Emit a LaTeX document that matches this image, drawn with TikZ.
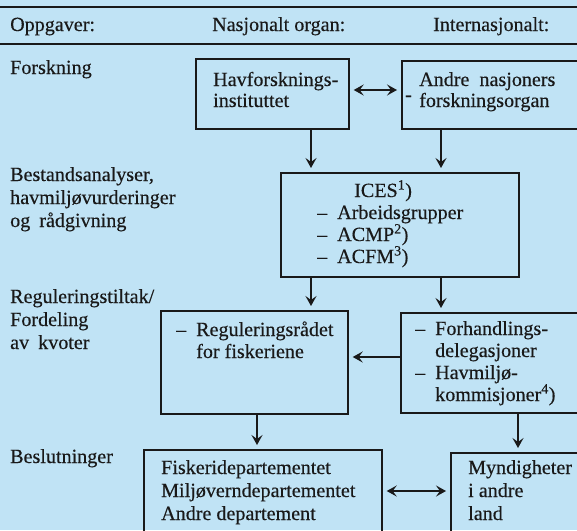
\documentclass[tikz,border=0pt]{standalone}
\usepackage{fontspec}
\setmainfont{Liberation Serif}[FakeBold=0.35]
\usetikzlibrary{arrows.meta}
\definecolor{bgblue}{RGB}{192,227,245}
\definecolor{ink}{RGB}{25,25,25}
\newcommand{\dashitem}[1]{\makebox[20pt][l]{–}#1}
\begin{document}
\begin{tikzpicture}[x=1pt,y=-1pt,
  every node/.style={inner sep=0pt, text=ink, font=\fontsize{20.1}{22}\selectfont},
  box/.style={draw=ink, line width=1.7pt, anchor=north west, minimum width=#1},
  txt/.style={anchor=base west},
  rule/.style={draw=ink, line width=1.5pt},
  arr/.style={draw=ink, line width=1.5pt, -{Stealth[length=10pt,width=11pt,inset=4pt]}, shorten >=4pt},
  dbl/.style={draw=ink, line width=1.5pt, {Stealth[length=10pt,width=11pt,inset=4pt]}-{Stealth[length=10pt,width=11pt,inset=4pt]}, shorten >=4pt, shorten <=4pt}
]
\fill[bgblue] (0,0) rectangle (577,530);
\useasboundingbox (0,0) rectangle (577,530);

% header rules
\coordinate (r1a) at (0,7);   \coordinate (r1b) at (577,7);
\coordinate (r2a) at (0,44);  \coordinate (r2b) at (577,44);
\draw[rule] (r1a) -- (r1b);
\draw[rule] (r2a) -- (r2b);

% header texts
\node[txt] (h1) at (10,31) {Oppgaver:};
\node[txt] (h2) at (212,31) {Nasjonalt organ:};
\node[txt] (h3) at (433,31) {Internasjonalt:};

% left column
\node[txt] (l1) at (10,74) {Forskning};
\node[txt] (l2a) at (10,181) {Bestandsanalyser,};
\node[txt] (l2b) at (10,204) {havmiljøvurderinger};
\node[txt] (l2c) at (10,227) {og\hspace{0.45em}rådgivning};
\node[txt] (l3a) at (10,303) {Reguleringstiltak/};
\node[txt] (l3b) at (10,326) {Fordeling};
\node[txt] (l3c) at (10,349) {av\hspace{0.45em}kvoter};
\node[txt] (l4) at (10,463) {Beslutninger};

% boxes
\node[box=153pt, minimum height=70pt] (hav) at (195,58) {};
\node[box=200pt, minimum height=68pt] (andre) at (401,60) {};
\node[box=238pt, minimum height=104pt] (ices) at (280,172) {};
\node[box=187pt, minimum height=103pt] (reg) at (160,310) {};
\node[box=200pt, minimum height=100pt] (forh) at (400,312) {};
\node[box=238pt, minimum height=110pt] (fisk) at (143,449) {};
\node[box=150pt, minimum height=110pt] (mynd) at (450,452) {};

% box texts
\node[txt] (t1a) at (213,86) {Havforsknings-};
\node[txt] (t1b) at (213,107) {instituttet};
\node[txt] (t2d) at (405,101) {-};
\node[txt] (t2a) at (419,86) {Andre\hspace{0.5em}nasjoners};
\node[txt] (t2b) at (419,107) {forskningsorgan};
\node[txt] (t3a) at (354,197) {ICES\textsuperscript{1})};
\node[txt] (t3b) at (317,219) {\dashitem{Arbeidsgrupper}};
\node[txt] (t3c) at (317,241) {\dashitem{ACMP\textsuperscript{2})}};
\node[txt] (t3d) at (317,263) {\dashitem{ACFM\textsuperscript{3})}};
\node[txt] (t4a) at (176,336) {\dashitem{Reguleringsrådet}};
\node[txt] (t4b) at (196,358) {for fiskeriene};
\node[txt] (t5a) at (415,335) {\dashitem{Forhandlings-}};
\node[txt] (t5b) at (435,357) {delegasjoner};
\node[txt] (t5c) at (415,379) {\dashitem{Havmiljø-}};
\node[txt] (t5d) at (435,401) {kommisjoner\textsuperscript{4})};
\node[txt] (t6a) at (161,474) {Fiskeridepartementet};
\node[txt] (t6b) at (161,497) {Miljøverndepartementet};
\node[txt] (t6c) at (161,520) {Andre departement};
\node[txt] (t7a) at (468,474) {Myndigheter};
\node[txt] (t7b) at (468,497) {i andre};
\node[txt] (t7c) at (468,520) {land};

% helper coordinates for connector lines
\coordinate (y90) at (0,90);
\coordinate (y357) at (0,357);
\coordinate (y491) at (0,491);
\coordinate (x311) at (311,0);
\coordinate (x441) at (441,0);
\coordinate (x257) at (257,0);
\coordinate (x518) at (518,0);

% connectors
\draw[dbl] (hav.east |- y90) -- (andre.west |- y90);
\draw[arr] (hav.south -| x311) -- (ices.north -| x311);
\draw[arr] (andre.south -| x441) -- (ices.north -| x441);
\draw[arr] (ices.south -| x311) -- (reg.north -| x311);
\draw[arr] (ices.south -| x441) -- (forh.north -| x441);
\draw[arr] (forh.west |- y357) -- (reg.east |- y357);
\draw[arr] (reg.south -| x257) -- (fisk.north -| x257);
\draw[arr] (forh.south -| x518) -- (mynd.north -| x518);
\draw[dbl] (fisk.east |- y491) -- (mynd.west |- y491);
\end{tikzpicture}
\end{document}
